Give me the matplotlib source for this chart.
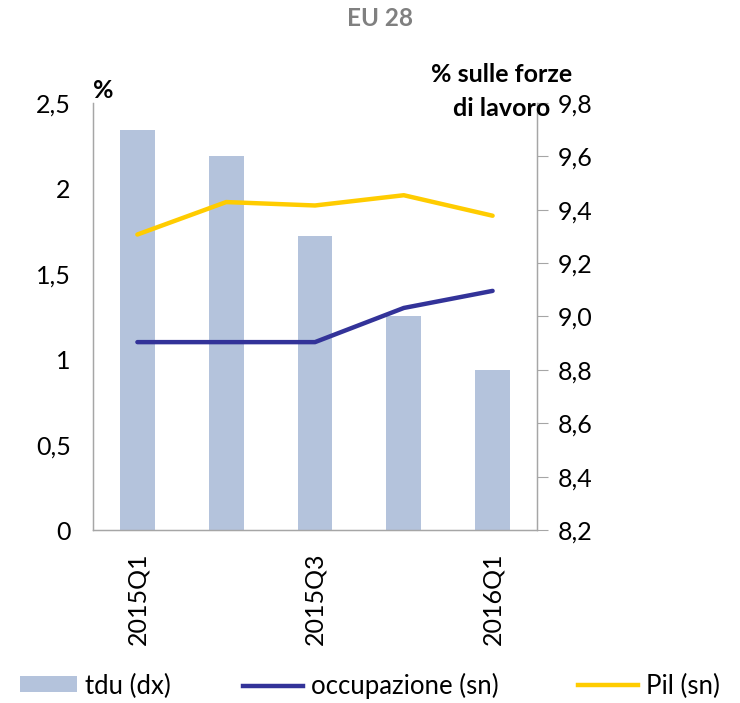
import matplotlib
matplotlib.use("Agg")
import matplotlib.pyplot as plt
from matplotlib.ticker import FuncFormatter, FixedLocator
from matplotlib.patches import Patch
from matplotlib.lines import Line2D

plt.rcParams['font.family'] = ['Lato', 'DejaVu Sans']

quarters = ["2015Q1", "2015Q2", "2015Q3", "2015Q4", "2016Q1"]
tdu = [9.7, 9.6, 9.3, 9.0, 8.8]            # right axis (dx)
occupazione = [1.1, 1.1, 1.1, 1.3, 1.4]    # left axis (sn)
pil = [1.73, 1.92, 1.90, 1.96, 1.84]       # left axis (sn)
xtick_labels = ["2015Q1", "", "2015Q3", "", "2016Q1"]
legend_labels = ["tdu (dx)", "occupazione (sn)", "Pil (sn)"]

bar_color = "#B4C3DC"
occ_color = "#333399"
pil_color = "#FFCC00"
spine_color = "#A6A6A6"
FS = 18

fig = plt.figure(figsize=(7.40, 7.03), dpi=100)
ax = fig.add_axes([93/740, 1-530/703, (537-93)/740, (530-103)/703])
ax2 = ax.twinx()

x = list(range(len(quarters)))
ax2.bar(x, tdu, width=0.39, color=bar_color, zorder=1)
ax.plot(x, occupazione, color=occ_color, lw=3.2, solid_capstyle='round', zorder=3)
ax.plot(x, pil, color=pil_color, lw=3.2, solid_capstyle='round', zorder=3)

ax.set_zorder(ax2.get_zorder() + 1)
ax.patch.set_visible(False)

ax.set_xlim(-0.5, 4.5)
ax.set_ylim(0, 2.5)
ax2.set_ylim(8.2, 9.8)

ax.yaxis.set_major_locator(FixedLocator([0, 0.5, 1, 1.5, 2, 2.5]))
ax.yaxis.set_major_formatter(FuncFormatter(lambda v, p: ("%g" % v).replace('.', ',')))
ax2.yaxis.set_major_locator(FixedLocator([8.2, 8.4, 8.6, 8.8, 9.0, 9.2, 9.4, 9.6, 9.8]))
ax2.yaxis.set_major_formatter(FuncFormatter(lambda v, p: ("%.1f" % v).replace('.', ',')))

ax.set_xticks(x)
ax.set_xticklabels(xtick_labels, rotation=90, fontsize=FS)
ax.tick_params(axis='x', length=0, pad=16)
ax.tick_params(axis='y', length=0, labelsize=FS, pad=16)
ax2.tick_params(axis='y', direction='out', length=8, width=0.8, color=spine_color,
                labelsize=FS, pad=7)

for a in (ax, ax2):
    a.spines['top'].set_visible(False)
    for s in ('left', 'right', 'bottom'):
        a.spines[s].set_color(spine_color)
        a.spines[s].set_linewidth(0.9)

fig.text(380/740, 1-19/703, "EU 28", ha='center', va='center', fontsize=17.5,
         fontweight='bold', color='#808080')
fig.text(93/740, 1-91/703, "%", ha='left', va='center', fontsize=FS, fontweight='bold')
fig.text(502/740, 1-75/703, "% sulle forze", ha='center', va='center', fontsize=FS, fontweight='bold')
fig.text(502/740, 1-108/703, "di lavoro", ha='center', va='center', fontsize=FS, fontweight='bold')

handles = [Patch(facecolor=bar_color, edgecolor='none'),
           Line2D([0], [0], color=occ_color, lw=3.2),
           Line2D([0], [0], color=pil_color, lw=3.2)]
starts = [20, 243, 578]
hlens = [2.22, 2.33, 2.33]
for h, lab, sx, hl in zip(handles, legend_labels, starts, hlens):
    fig.legend([h], [lab], loc='center left', bbox_to_anchor=(sx/740, 1-686/703),
               frameon=False, fontsize=18.5, handlelength=hl, handleheight=0.58,
               handletextpad=0.3, borderpad=0, borderaxespad=0)

fig.savefig("out.png", dpi=100)
